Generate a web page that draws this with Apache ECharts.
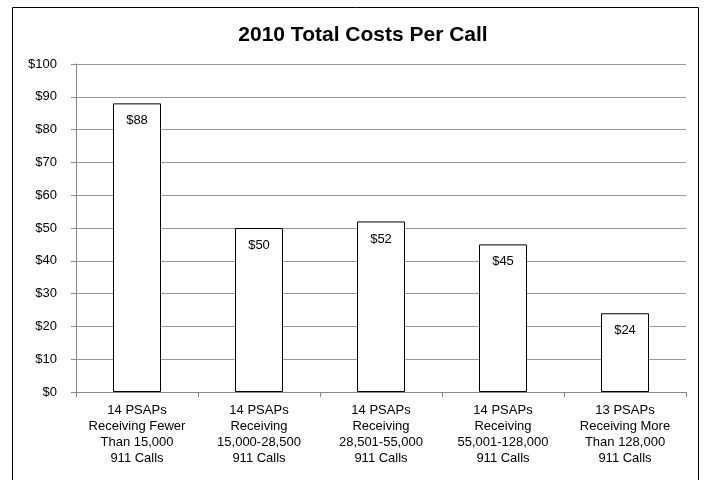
<!DOCTYPE html>
<html>
<head>
<meta charset="utf-8">
<script src="https://cdn.jsdelivr.net/npm/echarts@6/dist/echarts.min.js"></script>
<style>
  body { margin: 0; background: #fff; }
  #chart { width: 704px; height: 480px; }
</style>
</head>
<body>
<div id="chart"></div>
<script>
  // categories and values
  var categories = [
    '14 PSAPs\nReceiving Fewer\nThan 15,000\n911 Calls',
    '14 PSAPs\nReceiving\n15,000-28,500\n911 Calls',
    '14 PSAPs\nReceiving\n28,501-55,000\n911 Calls',
    '14 PSAPs\nReceiving\n55,001-128,000\n911 Calls',
    '13 PSAPs\nReceiving More\nThan 128,000\n911 Calls'
  ]
  var costPerCall = [88, 50, 52, 45, 24]
  var chartTitle = '2010 Total Costs Per Call'

  var chart = echarts.init(document.getElementById('chart'))
  chart.setOption({
    animation: false,
    textStyle: { fontFamily: 'Liberation Sans, Arial, sans-serif' },
    title: {
      text: chartTitle,
      left: 358,
      textAlign: 'center',
      top: 20,
      textStyle: { fontSize: 21, fontWeight: 'bold', color: '#000' }
    },
    /*  外框 */
    graphic: [{
      type: 'rect',
      shape: { x: 12.5, y: 7.5, width: 686, height: 480 },
      style: { fill: 'none', stroke: '#000', lineWidth: 1 },
      silent: true
    }],
    grid: { left: 76, right: 18, top: 64, bottom: 88 },
    xAxis: {
      type: 'category',
      data: categories,
      axisLine: { lineStyle: { color: '#888' } },
      axisTick: { show: true, length: 5, lineStyle: { color: '#888' } },
      axisLabel: { interval: 0, color: '#000', fontSize: 13, lineHeight: 16, margin: 10 }
    },
    yAxis: {
      type: 'value',
      min: 0,
      max: 100,
      interval: 10,
      axisLine: { show: true, lineStyle: { color: '#888' } },
      axisTick: { show: true, length: 5, lineStyle: { color: '#888' } },
      splitLine: { lineStyle: { color: '#999' } },
      axisLabel: { color: '#000', fontSize: 13, margin: 19, formatter: '${value}' }
    },
    series: [{
      type: 'bar',
      data: costPerCall,
      barWidth: 48,
      itemStyle: { color: '#fff', borderColor: '#000', borderWidth: 1 },
      label: {
        show: true,
        position: 'insideTop',
        distance: 11,
        color: '#000',
        fontSize: 13,
        formatter: '${c}'
      }
    }]
  })
</script>
</body>
</html>
